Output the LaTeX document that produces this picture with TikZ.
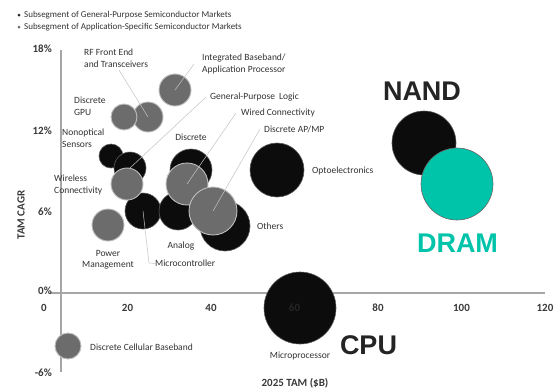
\documentclass[tikz,border=0pt]{standalone}
\usepackage{fontspec}
\setmainfont{Carlito}
\newfontfamily\arialf{Liberation Sans}
\definecolor{bubblack}{HTML}{0C0C0C}
\definecolor{rimblack}{HTML}{5A5A5A}
\definecolor{bubgray}{HTML}{6C6C6C}
\definecolor{rimgray}{HTML}{BDBDBD}
\definecolor{lblcol}{HTML}{333333}
\definecolor{leadcol}{HTML}{C4C4C4}
\definecolor{axcol}{HTML}{A6A6A6}
\definecolor{tickcol}{HTML}{3A3A3A}
\definecolor{tealc}{HTML}{00C4AA}
\definecolor{darkc}{HTML}{242424}
\definecolor{hidc}{HTML}{262626}
\begin{document}
\begin{tikzpicture}[x=1pt,y=-1pt,
  bub/.style={circle, inner sep=0pt, minimum size=#1},
  blk/.style={bub=#1, fill=bubblack, draw=rimblack, line width=0.6pt},
  gry/.style={bub=#1, fill=bubgray, draw=rimgray, line width=0.9pt},
  tealbub/.style={bub=#1, fill=tealc, draw=darkc!70, line width=0.6pt},
  lbl/.style={font=\fontsize{9.5}{11.5}\selectfont, text=lblcol, inner sep=0pt, align=left},
  legtxt/.style={font=\fontsize{9}{11}\selectfont, text=lblcol, inner sep=0pt, anchor=west},
  leader/.style={draw=leadcol, line width=0.5pt},
  axline/.style={draw=axcol, line width=1.2pt},
  ticklbl/.style={font=\bfseries\fontsize{11}{13}\selectfont, text=tickcol, inner sep=0pt},
  bigtxt/.style={font=\arialf\bfseries\fontsize{27}{30}\selectfont, inner sep=0pt}]
\useasboundingbox (0,0) rectangle (554,389);
\fill[white] (0,0) rectangle (554,389);

% legend
\fill[darkc] (19,15) circle (1.5);
\fill[bubgray] (19,27) circle (1.5);
\node[legtxt] (leg1) at (24,15) {Subsegment of General-Purpose Semiconductor Markets};
\node[legtxt] (leg2) at (24,27) {Subsegment of Application-Specific Semiconductor Markets};

% axes
\coordinate (yt) at (61,50);
\coordinate (yb) at (61,372);
\coordinate (xl) at (50,293);
\coordinate (xr) at (545,293);
\draw[axline] (yt) -- (yb);
\draw[axline] (xl) -- (xr);

% y ticks
\node[ticklbl, anchor=east] (y18) at (52,49) {18\%};
\node[ticklbl, anchor=east] (y12) at (52,131) {12\%};
\node[ticklbl, anchor=east] (y6) at (52,212) {6\%};
\node[ticklbl, anchor=east] (y0) at (52,291) {0\%};
\node[ticklbl, anchor=east] (ym6) at (52,373) {-6\%};
\node[ticklbl, rotate=90] (ytitle) at (21,215) {TAM CAGR};

% bubbles
\node[blk=24pt] (nonopt) at (111,156) {};
\node[blk=32pt] (gplogic) at (130,168) {};
\node[blk=36pt] (micro) at (143,211) {};
\node[gry=32pt] (wireless) at (127,184) {};
\node[gry=32pt] (power) at (108,225) {};
\node[gry=30pt] (rf) at (148,117) {};
\node[gry=26pt] (gpu) at (124,117) {};
\node[gry=32pt] (intbb) at (175,90) {};
\node[blk=42pt] (discrete) at (191,170) {};
\node[blk=38pt] (analog) at (178,211) {};
\node[gry=42pt] (wired) at (187,184) {};
\node[blk=50pt] (others) at (225,226) {};
\node[gry=48pt] (apmp) at (213,211) {};
\node[blk=54pt] (opto) at (277,170) {};
\node[blk=72pt] (cpu) at (300,308) {};
\node[blk=64pt] (nand) at (424,143) {};
\node[tealbub=72pt] (dram) at (457,184) {};
\node[gry=26pt] (cell) at (68,346) {};

% x ticks
\node[ticklbl] (x0) at (44,308) {0};
\node[ticklbl] (x20) at (127.5,308) {20};
\node[ticklbl] (x40) at (211,308) {40};
\node[ticklbl, text=hidc] (x60) at (294.5,308) {60};
\node[ticklbl] (x80) at (378,308) {80};
\node[ticklbl] (x100) at (461.5,308) {100};
\node[ticklbl] (x120) at (545,308) {120};
\node[ticklbl] (xtitle) at (295,383) {2025 TAM (\$B)};

% labels
\node[lbl, anchor=west] (rflbl) at (84,58) {RF Front End\\and Transceivers};
\node[lbl, anchor=west] (intlbl) at (202,64) {Integrated Baseband/\\Application Processor};
\node[lbl, anchor=west] (gpulbl) at (74,106.5) {Discrete\\GPU};
\node[lbl, anchor=west] (nonlbl) at (62,138) {Nonoptical\\Sensors};
\node[lbl, anchor=west] (gplbl) at (210,97.5) {General-Purpose\hspace{2pt} Logic};
\node[lbl, anchor=west] (wiredlbl) at (241,113) {Wired Connectivity};
\node[lbl, anchor=west] (apmplbl) at (264,129) {Discrete AP/MP};
\node[lbl] (disclbl) at (191,137.5) {Discrete};
\node[lbl, anchor=west] (wirelbl) at (54,185) {Wireless\\Connectivity};
\node[lbl, anchor=west] (optolbl) at (312,170.5) {Optoelectronics};
\node[lbl, anchor=west] (othlbl) at (257,226) {Others};
\node[lbl] (analbl) at (181,246) {Analog};
\node[lbl, align=center] (powlbl) at (108,260) {Power\\Management};
\node[lbl, anchor=west] (microlbl) at (155,263.5) {Microcontroller};
\node[lbl] (cpulbl) at (300,356) {Microprocessor};
\node[lbl, anchor=west] (celllbl) at (90,347) {Discrete Cellular Baseband};

% leaders
\coordinate (rfs) at (119,70);
\coordinate (ints) at (194,64);
\coordinate (gps) at (206,97);
\coordinate (wireds) at (236,113);
\coordinate (apmps) at (260,129);
\coordinate (micb) at (149,263);
\draw[leader] (rfs) -- (rf.center);
\draw[leader] (ints) -- (intbb.center);
\draw[leader] (gps) -- (gplogic.center);
\draw[leader] (wireds) -- (wired.center);
\draw[leader] (apmps) -- (apmp.center);
\draw[leader] (micro.center) -- (micb) -- (microlbl.west);

% big labels
\node[bigtxt, text=darkc] (nandt) at (422,91) {NAND};
\node[bigtxt, text=tealc] (dramt) at (457.5,243) {DRAM};
\node[bigtxt, text=darkc] (cput) at (368.5,345) {CPU};
\end{tikzpicture}
\end{document}
